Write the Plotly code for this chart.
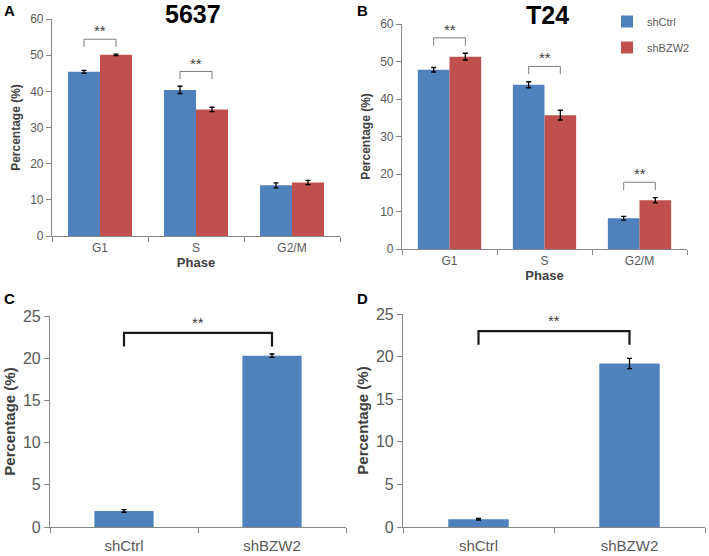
import plotly.graph_objects as go

# ---------------- data ----------------
phases = ["G1", "S", "G2/M"]
a_ctrl = [45.4, 40.4, 14.0]
a_ctrl_err = [0.4, 1.0, 0.7]
a_bzw2 = [50.1, 35.0, 14.8]
a_bzw2_err = [0.2, 0.6, 0.6]
a_sig = [True, True, False]

b_ctrl = [47.8, 43.8, 8.2]
b_ctrl_err = [0.6, 0.8, 0.5]
b_bzw2 = [51.3, 35.7, 13.0]
b_bzw2_err = [0.9, 1.3, 0.7]
b_sig = [True, True, True]

groups = ["shCtrl", "shBZW2"]
c_vals = [1.9, 20.3]
c_err = [0.15, 0.2]
d_vals = [0.9, 19.2]
d_err = [0.1, 0.6]

# ---------------- style ----------------
BLUE = "#4F81BD"
RED = "#C0504D"
AXC = "#868686"
TXT = "#595959"
TTL = "#404040"
FONT = "Liberation Sans"
BARGAP = 1 / 3

fig = go.Figure()

def err(vals):
    return dict(type="data", array=vals, color="black", thickness=1.3, width=2.5)

def add_pair(ctrl, ce, bzw, be, xa, ya, legend):
    fig.add_trace(go.Bar(x=phases, y=ctrl, error_y=err(ce), marker_color=BLUE,
                         marker_line_width=0, name="shCtrl", xaxis=xa, yaxis=ya,
                         showlegend=legend, legendgroup="a"))
    fig.add_trace(go.Bar(x=phases, y=bzw, error_y=err(be), marker_color=RED,
                         marker_line_width=0, name="shBZW2", xaxis=xa, yaxis=ya,
                         showlegend=legend, legendgroup="b"))

add_pair(a_ctrl, a_ctrl_err, a_bzw2, a_bzw2_err, "x", "y", False)
add_pair(b_ctrl, b_ctrl_err, b_bzw2, b_bzw2_err, "x2", "y2", True)

fig.add_trace(go.Bar(x=groups, y=c_vals, error_y=err(c_err), marker_color=BLUE,
                     marker_line_width=0, width=[0.4] * len(groups),
                     xaxis="x3", yaxis="y3", showlegend=False))
fig.add_trace(go.Bar(x=groups, y=d_vals, error_y=err(d_err), marker_color=BLUE,
                     marker_line_width=0, width=[0.4] * len(groups),
                     xaxis="x4", yaxis="y4", showlegend=False))

shapes = []
annotations = []

# brackets on grouped panels
half = (1 - BARGAP) / 4
def pair_brackets(ctrl, ce, bzw, be, sig, xr, yr):
    for i in range(len(phases)):
        if not sig[i]:
            continue
        top = max(ctrl[i] + ce[i], bzw[i] + be[i])
        x0, x1 = i - half, i + half
        y0, y1 = top + 2.0, top + 4.1
        shapes.append(dict(type="path", xref=xr, yref=yr,
                           path=f"M {x0} {y0} L {x0} {y1} L {x1} {y1} L {x1} {y0}",
                           line=dict(color="#7f7f7f", width=1)))
        annotations.append(dict(x=i, y=y1 + 2.3, xref=xr, yref=yr, text="**",
                                showarrow=False, font=dict(size=15, color="#404040")))

pair_brackets(a_ctrl, a_ctrl_err, a_bzw2, a_bzw2_err, a_sig, "x", "y")
pair_brackets(b_ctrl, b_ctrl_err, b_bzw2, b_bzw2_err, b_sig, "x2", "y2")

def two_bracket(xr, yr):
    y0, y1 = 21.4, 23.0
    shapes.append(dict(type="path", xref=xr, yref=yr,
                       path=f"M 0 {y0} L 0 {y1} L 1 {y1} L 1 {y0}",
                       line=dict(color="#1a1a1a", width=2.2)))
    annotations.append(dict(x=0.5, y=y1 + 1.2, xref=xr, yref=yr, text="**",
                            showarrow=False, font=dict(size=15, color="#404040")))

two_bracket("x3", "y3")
two_bracket("x4", "y4")

# titles and panel letters
W, H = 709, 556
def paper_text(text, px, py, size, color="black", xanchor="center"):
    annotations.append(dict(x=px / W, y=1 - py / H, xref="paper", yref="paper",
                            text=f"<b>{text}</b>", showarrow=False, xanchor=xanchor,
                            yanchor="middle", font=dict(size=size, color=color)))

paper_text("5637", 193, 14, 25)
paper_text("T24", 547, 15, 25)
paper_text("A", 2, 10, 15, xanchor="left")
paper_text("B", 355, 10, 15, xanchor="left")
paper_text("C", 2, 298, 15, xanchor="left")
paper_text("D", 355, 298, 15, xanchor="left")

def xdom(a, b):
    return [a / W, b / W]
def ydom(top, bot):
    return [1 - bot / H, 1 - top / H]

def yax(dom, anchor, rng, dtick, size, tsize, standoff):
    return dict(domain=dom, anchor=anchor, range=rng, dtick=dtick, showgrid=False,
                zeroline=False, automargin=False,
                showline=True, linecolor=AXC, linewidth=1.2, ticks="outside", ticklen=5,
                tickcolor=AXC, tickfont=dict(size=size, color=TXT),
                title=dict(text="<b>Percentage (%)</b>", font=dict(size=tsize, color=TTL),
                           standoff=standoff))

def xax(dom, anchor, size, title=None, lab_off=0):
    d = dict(domain=dom, anchor=anchor, showgrid=False, zeroline=False, showline=True,
             automargin=False, ticklabelstandoff=lab_off,
             linecolor=AXC, linewidth=1.2, ticks="outside", ticklen=5, tickcolor=AXC,
             tickson="boundaries", tickfont=dict(size=size, color=TXT))
    if title:
        d["title"] = dict(text=f"<b>{title}</b>", font=dict(size=13, color=TTL), standoff=4)
    return d

fig.update_layout(
    width=W, height=H, margin=dict(l=0, r=0, t=0, b=0, autoexpand=False),
    paper_bgcolor="white", plot_bgcolor="white",
    font=dict(family=FONT, color=TXT),
    barmode="group", bargap=BARGAP, bargroupgap=0,
    xaxis=xax(xdom(52, 340), "y", 12, "Phase"),
    yaxis=yax(ydom(19, 236), "x", [0, 60], 10, 12, 12, 6),
    xaxis2=xax(xdom(402, 687), "y2", 12, "Phase"),
    yaxis2=yax(ydom(24, 249), "x2", [0, 60], 10, 12, 12, 6),
    xaxis3=xax(xdom(50, 346), "y3", 15, lab_off=5),
    yaxis3=yax(ydom(316, 527), "x3", [0, 25], 5, 16, 15, 3),
    xaxis4=xax(xdom(403, 705), "y4", 15, lab_off=5),
    yaxis4=yax(ydom(314, 527), "x4", [0, 25], 5, 16, 15, 3),
    shapes=shapes, annotations=annotations,
    legend=dict(x=607 / W, y=1 - 7 / H, xanchor="left", yanchor="top",
                font=dict(size=11, color=TXT), bgcolor="rgba(0,0,0,0)",
                tracegroupgap=7, itemwidth=30),
)

fig.write_html("out.html", config={"displayModeBar": False},
               post_script="document.body.style.margin='0';document.body.style.padding='0';")
